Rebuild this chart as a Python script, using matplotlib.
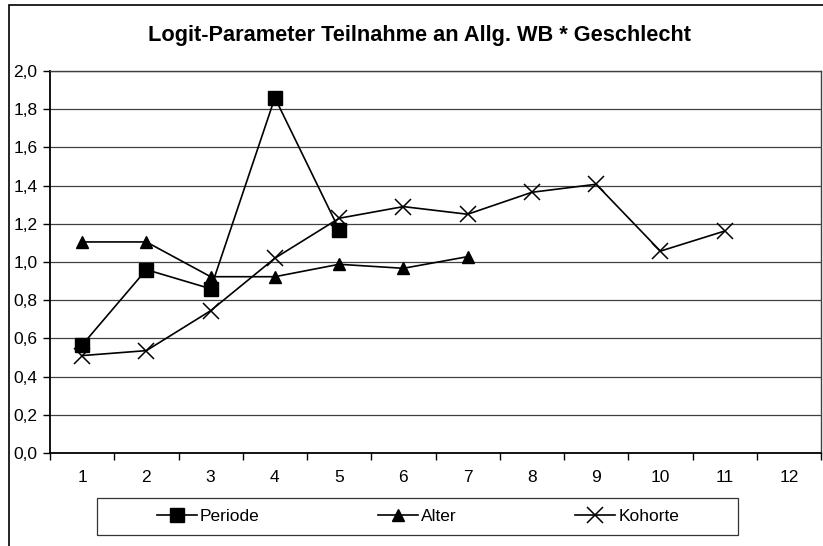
import numpy as np
import matplotlib as mpl
import matplotlib.pyplot as plt
from matplotlib.patches import Rectangle

mpl.rcParams['font.family'] = ['Liberation Sans', 'DejaVu Sans']

categories = [1, 2, 3, 4, 5, 6, 7, 8, 9, 10, 11, 12]
periode = [0.565, 0.96, 0.86, 1.86, 1.17]
alter = [1.105, 1.105, 0.923, 0.923, 0.988, 0.967, 1.028]
kohorte = [0.51, 0.536, 0.745, 1.02, 1.229, 1.29, 1.25, 1.365, 1.407, 1.057, 1.162]
y_ticks = [0.0, 0.2, 0.4, 0.6, 0.8, 1.0, 1.2, 1.4, 1.6, 1.8, 2.0]


def main():
    fig = plt.figure(figsize=(8.23, 5.46), dpi=100)
    W, H = 823.0, 546.0
    # plot area in pixels: left 50, right 821, top 71, bottom 453
    ax = fig.add_axes([50 / W, 1 - 453 / H, (821 - 50) / W, (453 - 71) / H])

    # outer chart frame (cut off at right and bottom)
    fig.patches.append(Rectangle((9 / W, -0.1), 1.2, 1 - 5 / H + 0.1,
                                 transform=fig.transFigure, fill=False,
                                 edgecolor='black', linewidth=1.2))

    x = np.arange(len(categories))
    ax.plot(x[:len(periode)], periode, 'k-', marker='s', markersize=10,
            linewidth=1.2, label='Periode')
    ax.plot(x[:len(alter)], alter, 'k-', marker='^', markersize=9,
            linewidth=1.2, label='Alter')
    ax.plot(x[:len(kohorte)], kohorte, 'k-', marker='x', markersize=12,
            markeredgewidth=1.1, linewidth=1.2, label='Kohorte')

    ax.set_xlim(-0.5, len(categories) - 0.5)
    ax.set_ylim(0, 2.0)
    ax.set_yticks(y_ticks)
    ax.set_yticklabels([('%.1f' % v).replace('.', ',') for v in y_ticks])
    ax.set_xticks(x)
    ax.set_xticklabels([str(c) for c in categories])
    ax.set_xticks(np.arange(len(categories) + 1) - 0.5, minor=True)
    ax.tick_params(axis='x', which='major', length=0, pad=12, labelsize=12.5)
    ax.tick_params(axis='x', which='minor', length=5, direction='out', width=1)
    ax.tick_params(axis='y', length=5, direction='out', width=1, labelsize=12.5, pad=4)

    ax.grid(axis='y', color='#404040', linewidth=0.9)
    ax.set_axisbelow(True)
    for s in ['top', 'right']:
        ax.spines[s].set_color('#404040')
        ax.spines[s].set_linewidth(1.0)
    for s in ['left', 'bottom']:
        ax.spines[s].set_color('black')
        ax.spines[s].set_linewidth(1.3)

    fig.text(420 / W, 1 - 36 / H, 'Logit-Parameter Teilnahme an Allg. WB * Geschlecht',
             ha='center', va='center', fontsize=15.7, fontweight='bold')

    # legend box drawn separately, entries centred in it
    fig.patches.append(Rectangle((97 / W, 1 - 535 / H), (738 - 97) / W, (535 - 498) / H,
                                 transform=fig.transFigure, fill=False,
                                 edgecolor='#333333', linewidth=0.9))
    fig.legend(loc='center', ncol=3, bbox_to_anchor=(418 / W, 1 - 516.5 / H),
               frameon=False, fontsize=12.5, handlelength=2.3,
               handletextpad=0.2, columnspacing=6.8, borderaxespad=0)

    fig.savefig('out.png', dpi=100)


if __name__ == '__main__':
    main()
